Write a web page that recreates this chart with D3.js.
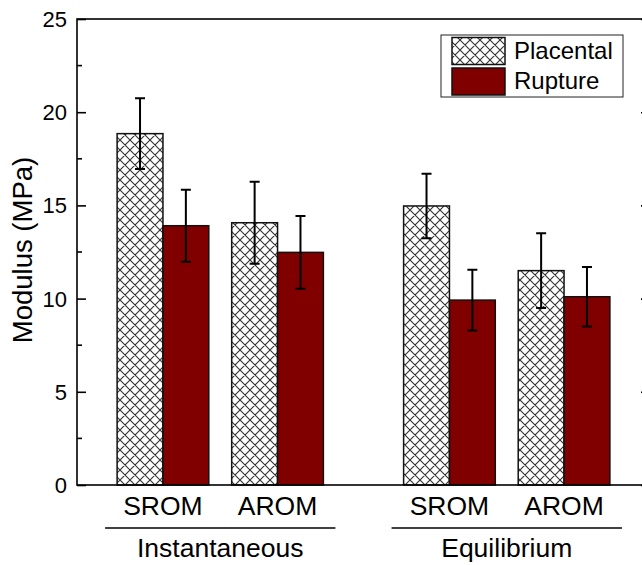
<!DOCTYPE html>
<html>
<head>
<meta charset="utf-8">
<script src="https://cdn.jsdelivr.net/npm/d3@7"></script>
<style>
  html, body { margin: 0; padding: 0; background: #fff; }
  svg { display: block; font-family: "Liberation Sans", Arial, sans-serif; }
</style>
</head>
<body>
<svg id="chart" width="642" height="565"></svg>
<script>
// Modulus of placental vs rupture-site membranes, instantaneous and equilibrium
const groups = ["Instantaneous", "Equilibrium"];
const groupCenters = [1.5, 4];
const conditions = ["SROM", "AROM", "SROM", "AROM"];
const positions = [1, 2, 3.5, 4.5];
const placental = [18.85, 14.07, 14.97, 11.5];
const placentalErr = [1.9, 2.2, 1.73, 2.0];
const rupture = [13.91, 12.48, 9.92, 10.1];
const ruptureErr = [1.93, 1.95, 1.63, 1.6];
const yTicks = [0, 5, 10, 15, 20, 25];
const seriesNames = ["Placental", "Rupture"];

const svg = d3.select("#chart");
const plotLeft = 77, plotRight = 650, plotTop = 19, plotBottom = 485;

const x = d3.scaleLinear().domain([0.25, 5.25]).range([plotLeft, plotRight]);
const y = d3.scaleLinear().domain([0, 25]).range([plotBottom, plotTop]);
const barW = x(0.4) - x(0);

// cross-hatch fill
const defs = svg.append("defs");
const pat = defs.append("pattern")
  .attr("id", "hatch").attr("patternUnits", "userSpaceOnUse")
  .attr("width", 10).attr("height", 10);
pat.append("rect").attr("width", 10).attr("height", 10).attr("fill", "#fff");
pat.append("path").attr("d", "M-1,-1 L11,11 M-1,9 L1,11 M9,-1 L11,1 M-1,11 L11,-1 M-1,1 L1,-1 M9,11 L11,9")
  .attr("stroke", "#333").attr("stroke-width", 1.1).attr("fill", "none");

const rows = positions.map((p, i) => ({
  pos: p, cond: conditions[i],
  placental: placental[i], pErr: placentalErr[i],
  rupture: rupture[i], rErr: ruptureErr[i]
}));

// bars
const bars = svg.append("g");
bars.selectAll(".pl").data(rows).join("rect")
  .attr("x", d => x(d.pos) - barW).attr("width", barW)
  .attr("y", d => y(d.placental)).attr("height", d => y(0) - y(d.placental))
  .attr("fill", "url(#hatch)").attr("stroke", "#111").attr("stroke-width", 1.5);
bars.selectAll(".ru").data(rows).join("rect")
  .attr("x", d => x(d.pos)).attr("width", barW)
  .attr("y", d => y(d.rupture)).attr("height", d => y(0) - y(d.rupture))
  .attr("fill", "#800000").attr("stroke", "#111").attr("stroke-width", 1.5);

// error bars
const errs = [];
rows.forEach(d => {
  errs.push({ cx: d.pos - 0.2, v: d.placental, e: d.pErr });
  errs.push({ cx: d.pos + 0.2, v: d.rupture, e: d.rErr });
});
const eg = svg.append("g").attr("stroke", "#000").attr("stroke-width", 2).attr("fill", "none");
eg.selectAll("path").data(errs).join("path")
  .attr("d", d => {
    const cx = x(d.cx), y1 = y(d.v + d.e), y0 = y(d.v - d.e);
    return `M${cx - 5},${y1}H${cx + 5}M${cx},${y1}V${y0}M${cx - 5},${y0}H${cx + 5}`;
  });

// frame
svg.append("rect").attr("x", plotLeft).attr("y", plotTop)
  .attr("width", plotRight - plotLeft).attr("height", plotBottom - plotTop)
  .attr("fill", "none").attr("stroke", "#000").attr("stroke-width", 1.6);

// y axes (inward ticks on both sides)
const minor = d3.range(2.5, 25, 5);
const yAxisL = d3.axisRight(y).tickValues(yTicks).tickSize(9).tickFormat("");
const gL = svg.append("g").attr("transform", `translate(${plotLeft},0)`).call(yAxisL);
gL.selectAll(".minor").data(minor).join("line").attr("class", "minor")
  .attr("x1", 0).attr("x2", 5).attr("y1", d => y(d)).attr("y2", d => y(d));
const yAxisR = d3.axisLeft(y).tickValues(yTicks).tickSize(9).tickFormat("");
const gR = svg.append("g").attr("transform", `translate(${plotRight},0)`).call(yAxisR);
gR.selectAll(".minor").data(minor).join("line").attr("class", "minor")
  .attr("x1", 0).attr("x2", -5).attr("y1", d => y(d)).attr("y2", d => y(d));
[gL, gR].forEach(g => {
  g.select(".domain").remove();
  g.selectAll("line").attr("stroke", "#000").attr("stroke-width", 1.6);
});

// y tick labels
svg.append("g").selectAll("text").data(yTicks).join("text")
  .attr("x", plotLeft - 10).attr("y", d => y(d)).attr("dy", "0.36em")
  .attr("text-anchor", "end").attr("font-size", 22).attr("fill", "#000")
  .text(d => d);

// y title
svg.append("text")
  .attr("transform", `translate(32,250) rotate(-90)`)
  .attr("text-anchor", "middle").attr("font-size", 27.5).attr("fill", "#000")
  .text("Modulus (MPa)");

// category labels
svg.append("g").selectAll("text").data(rows).join("text")
  .attr("x", d => x(d.pos)).attr("y", 515)
  .attr("text-anchor", "middle").attr("font-size", 26.5).attr("fill", "#000")
  .text(d => d.cond);

// group brackets and labels
const gg = svg.append("g").selectAll("g").data(groups).join("g");
gg.append("line")
  .attr("x1", (d, i) => x(groupCenters[i] - 1.005)).attr("x2", (d, i) => x(groupCenters[i] + 1.005))
  .attr("y1", 528).attr("y2", 528).attr("stroke", "#000").attr("stroke-width", 1.6);
gg.append("text")
  .attr("x", (d, i) => x(groupCenters[i])).attr("y", 557)
  .attr("text-anchor", "middle").attr("font-size", 26.5).attr("fill", "#000")
  .text(d => d);

// legend
const lg = svg.append("g");
lg.append("rect").attr("x", 441).attr("y", 35).attr("width", 182).attr("height", 62)
  .attr("fill", "#fff").attr("stroke", "#222").attr("stroke-width", 1);
const fills = ["url(#hatch)", "#800000"];
const items = lg.selectAll("g").data(seriesNames).join("g")
  .attr("transform", (d, i) => `translate(0,${i * 30.5})`);
items.append("rect").attr("x", 452).attr("y", 37.5).attr("width", 53).attr("height", 27)
  .attr("fill", (d, i) => fills[i]).attr("stroke", "#111").attr("stroke-width", 1.5);
items.append("text").attr("x", 514).attr("y", 58.5)
  .attr("font-size", 24).attr("fill", "#000").text(d => d);
</script>
</body>
</html>
